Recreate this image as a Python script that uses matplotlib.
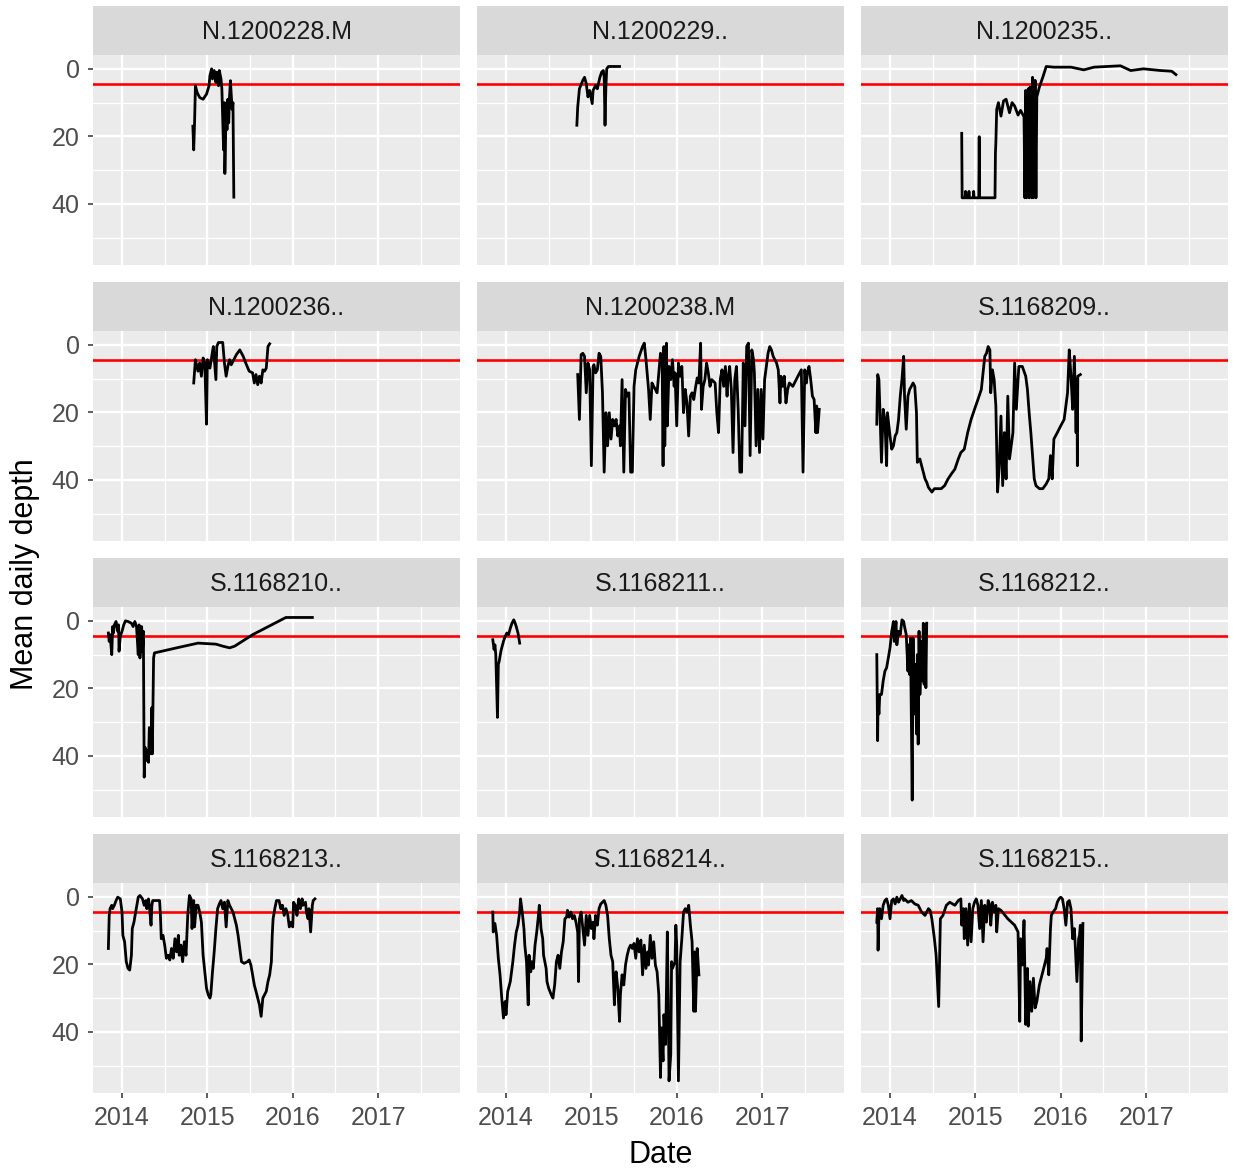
import matplotlib
matplotlib.use("Agg")
import matplotlib.pyplot as plt

# ---------------- data (decimal year, mean daily depth) ----------------
labels = ["N.1200228.M", "N.1200229..", "N.1200235..",
          "N.1200236..", "N.1200238.M", "S.1168209..",
          "S.1168210..", "S.1168211..", "S.1168212..",
          "S.1168213..", "S.1168214..", "S.1168215.."]

years_228 = [2014.83, 2014.84, 2014.85, 2014.86, 2014.88, 2014.91, 2014.95, 2014.99, 2015.02, 2015.03,
             2015.05, 2015.06, 2015.08, 2015.10, 2015.11, 2015.13, 2015.14, 2015.16, 2015.17, 2015.19,
             2015.20, 2015.205, 2015.22, 2015.23, 2015.24, 2015.25, 2015.26, 2015.27, 2015.29, 2015.30, 2015.31]
depth_228 = [17, 24, 16, 5, 7, 8.5, 9, 7.5, 5, 2,
             0, 3, 0.5, 4, 1, 5, 0.5, 3, 6, 24,
             10, 31, 11, 18, 9, 16, 8, 3.5, 12, 10, 38]

years_229 = [2014.83, 2014.84, 2014.86, 2014.90, 2014.92, 2014.94, 2014.96, 2014.98, 2015.01, 2015.02,
             2015.05, 2015.07, 2015.10, 2015.12, 2015.14, 2015.15, 2015.16, 2015.17, 2015.18, 2015.20,
             2015.25, 2015.33]
depth_229 = [16.7, 11.3, 5.9, 3.4, 2.5, 4.4, 8.3, 6.4, 10.3, 6.4,
             4.9, 5.9, 2.5, 1.0, 0.5, 2.5, 16.7, 5.4, 0.0, -0.7,
             -0.7, -0.7]

years_235 = [2014.84, 2014.845, 2014.88, 2014.885, 2014.89, 2014.92, 2014.925, 2014.93, 2014.975, 2014.98,
             2014.985, 2015.04, 2015.045, 2015.05, 2015.23, 2015.235, 2015.24, 2015.25, 2015.27, 2015.30,
             2015.33, 2015.36, 2015.40, 2015.43, 2015.46, 2015.50, 2015.53, 2015.57, 2015.58, 2015.59,
             2015.60, 2015.62, 2015.63, 2015.64, 2015.66, 2015.67, 2015.68, 2015.70, 2015.71, 2015.72,
             2015.75, 2015.79, 2015.83, 2015.92, 2016.12, 2016.27, 2016.39, 2016.70, 2016.82, 2016.97,
             2017.17, 2017.30, 2017.35]
depth_235 = [19.1, 38.2, 38.2, 36.3, 38.2, 38.2, 36.3, 38.2, 38.2, 36.3,
             38.2, 38.2, 20.1, 38.2, 38.2, 25, 22, 12, 10, 14,
             9.5, 9, 13, 10, 11, 13.7, 12.3, 14.2, 38.2, 6.4,
             38.2, 5.9, 38.2, 5.4, 38.2, 2.5, 38.2, 3.4, 38.2, 8.3,
             5.4, 2.5, -0.7, -0.5, -0.5, 0.3, -0.5, -0.9, 0.5, 0,
             0.5, 0.7, 1.7]

years_236 = [2014.84, 2014.86, 2014.89, 2014.91, 2014.93, 2014.95, 2014.97, 2014.99, 2015.00, 2015.03,
             2015.06, 2015.07, 2015.10, 2015.11, 2015.13, 2015.18, 2015.20, 2015.22, 2015.24, 2015.26,
             2015.28, 2015.31, 2015.34, 2015.38, 2015.42, 2015.45, 2015.49, 2015.53, 2015.55, 2015.57,
             2015.59, 2015.61, 2015.63, 2015.65, 2015.67, 2015.69, 2015.71, 2015.73]
depth_236 = [11.3, 4.4, 7.8, 5.4, 9.3, 3.9, 5.4, 23.5, 4.4, 6.9,
             2.0, 0.5, 10.3, 0.5, -0.7, -0.7, 5.4, 9.3, 6.4, 4.4,
             5.9, 4.4, 2.9, 1.5, 3.4, 5.4, 7.8, 8.3, 11.3, 8.8,
             11.8, 9.3, 11.3, 7.4, 7.8, 6.9, 0.5, -0.3]

years_238 = [2014.84, 2014.86, 2014.88, 2014.90, 2014.92, 2014.94, 2014.96, 2014.98, 2015.00, 2015.02,
             2015.03, 2015.05, 2015.07, 2015.09, 2015.11, 2015.13, 2015.15, 2015.17, 2015.19, 2015.21,
             2015.23, 2015.25, 2015.27, 2015.29, 2015.31, 2015.33, 2015.34, 2015.36, 2015.38, 2015.40,
             2015.42, 2015.44, 2015.46, 2015.48, 2015.50, 2015.52, 2015.56, 2015.60, 2015.62, 2015.64,
             2015.66, 2015.67, 2015.69, 2015.71, 2015.73, 2015.75, 2015.77, 2015.79, 2015.81, 2015.83,
             2015.84, 2015.85, 2015.86, 2015.88, 2015.89, 2015.91, 2015.93, 2015.95, 2015.97, 2015.98,
             2016.00, 2016.02, 2016.04, 2016.06, 2016.08, 2016.10, 2016.12, 2016.14, 2016.16, 2016.18,
             2016.20, 2016.22, 2016.24, 2016.26, 2016.28, 2016.29, 2016.31, 2016.33, 2016.35, 2016.37,
             2016.39, 2016.41, 2016.45, 2016.47, 2016.49, 2016.51, 2016.53, 2016.55, 2016.57, 2016.59,
             2016.60, 2016.62, 2016.64, 2016.66, 2016.68, 2016.70, 2016.72, 2016.74, 2016.76, 2016.78,
             2016.80, 2016.82, 2016.84, 2016.86, 2016.88, 2016.90, 2016.91, 2016.93, 2016.95, 2016.97,
             2016.99, 2017.01, 2017.03, 2017.05, 2017.07, 2017.09, 2017.11, 2017.13, 2017.15, 2017.17,
             2017.19, 2017.21, 2017.22, 2017.24, 2017.26, 2017.28, 2017.30, 2017.32, 2017.36, 2017.42,
             2017.46, 2017.48, 2017.50, 2017.52, 2017.53, 2017.55, 2017.57, 2017.59, 2017.61, 2017.63,
             2017.64, 2017.65, 2017.67]
depth_238 = [8.8, 22.1, 2.9, 2.5, 3.4, 14.2, 5.4, 7.4, 35.8, 6.4,
             5.9, 8.3, 7.4, 2.5, 3.4, 14.2, 37.7, 20.1, 29.9, 20.1,
             27.9, 22.1, 24.0, 22.1, 27.0, 24.0, 29.9, 10.3, 37.7, 13.2,
             15.2, 14.2, 37.7, 37.7, 12.3, 7.4, 3.4, 0.5, -0.5, 4.4,
             10.3, 13.2, 22.1, 11.3, 12.3, 13.2, 14.2, 8.3, 2.5, 6.4,
             35.8, 0.5, 29.9, -0.5, 24.0, 6.4, 10.3, 4.4, 12.3, 8.3,
             24.0, 5.4, 9.3, 6.4, 20.1, 13.2, 17.2, 27.0, 15.2, 14.2,
             16.2, 12.7, 9.8, 11.3, -0.5, 19.1, 12.3, 10.3, 5.4, 8.3,
             12.3, 10.3, 11.3, 20.1, 26.0, 10.3, 7.4, 12.3, 6.4, 15.2,
             10.3, 6.4, 13.2, 31.9, 10.3, 6.4, 19.1, 37.7, 37.7, 5.4,
             24.0, 0.5, -0.5, 32.8, 1.5, 4.4, 8.3, 29.9, 13.2, 31.9,
             13.2, 27.9, 10.3, 6.4, 2.5, 0.5, 1.5, 3.4, 4.4, 5.4,
             7.4, 17.2, 9.3, 12.3, 9.3, 17.2, 13.2, 11.3, 12.3, 9.3,
             7.4, 37.7, 7.4, 11.3, 8.3, 6.4, 10.3, 15.2, 16.2, 26.0,
             18.1, 26.0, 19.1]

years_209 = [2013.845, 2013.85, 2013.856, 2013.87, 2013.88, 2013.90, 2013.92, 2013.94, 2013.96, 2013.97,
             2014.00, 2014.02, 2014.04, 2014.06, 2014.08, 2014.10, 2014.12, 2014.14, 2014.16, 2014.17,
             2014.19, 2014.21, 2014.23, 2014.25, 2014.27, 2014.29, 2014.31, 2014.32, 2014.35, 2014.37,
             2014.39, 2014.41, 2014.43, 2014.45, 2014.49, 2014.52, 2014.56, 2014.60, 2014.64, 2014.68,
             2014.72, 2014.76, 2014.80, 2014.83, 2014.87, 2014.91, 2014.95, 2014.99, 2015.03, 2015.07,
             2015.11, 2015.13, 2015.15, 2015.17, 2015.18, 2015.20, 2015.22, 2015.24, 2015.26, 2015.28,
             2015.30, 2015.32, 2015.34, 2015.36, 2015.38, 2015.40, 2015.42, 2015.44, 2015.46, 2015.48,
             2015.50, 2015.51, 2015.55, 2015.59, 2015.61, 2015.63, 2015.65, 2015.67, 2015.69, 2015.71,
             2015.75, 2015.79, 2015.83, 2015.86, 2015.88, 2015.90, 2015.92, 2015.96, 2016.00, 2016.04,
             2016.08, 2016.10, 2016.12, 2016.14, 2016.16, 2016.18, 2016.19, 2016.195, 2016.20, 2016.23]
depth_209 = [23.5, 15.7, 8.8, 10.3, 18.1, 34.8, 19.1, 22.1, 35.8, 20.1,
             27.0, 30.9, 29.9, 27.0, 26.0, 22.1, 15.2, 10.3, 3.4, 15.2,
             25.0, 15.2, 13.2, 12.3, 11.3, 12.3, 20.1, 34.8, 33.8, 35.8,
             37.7, 39.7, 40.7, 42.2, 43.6, 42.6, 42.6, 42.6, 41.7, 39.7,
             38.2, 36.8, 33.8, 31.9, 30.9, 26.0, 22.1, 19.1, 16.2, 13.2,
             3.4, 2.5, 0.5, 1.5, 14.2, 7.4, 10.3, 18.1, 43.6, 35.8,
             21.1, 41.7, 26.0, 39.7, 15.2, 33.8, 29.9, 26.0, 5.4, 19.1,
             10.3, 6.4, 6.4, 9.3, 13.2, 20.1, 26.0, 32.8, 39.7, 41.7,
             42.6, 42.6, 41.2, 39.7, 32.8, 39.7, 27.9, 26.0, 24.0, 22.1,
             14.2, 1.5, 9.3, 19.1, 3.4, 26.0, 10.3, 35.8, 9.3, 8.8]

years_210 = [2013.84, 2013.85, 2013.86, 2013.88, 2013.89, 2013.90, 2013.91, 2013.93, 2013.95, 2013.96,
             2013.965, 2013.98, 2014.00, 2014.02, 2014.04, 2014.07, 2014.11, 2014.13, 2014.15, 2014.17,
             2014.19, 2014.20, 2014.21, 2014.23, 2014.24, 2014.25, 2014.26, 2014.27, 2014.28, 2014.30,
             2014.31, 2014.32, 2014.34, 2014.35, 2014.355, 2014.37, 2014.38, 2014.64, 2014.89, 2015.10,
             2015.18, 2015.26, 2015.32, 2015.53, 2015.92, 2016.23]
depth_210 = [3.6, 6.1, 4.1, 10.0, 1.7, 3.6, 1.2, 0.2, 3.1, 1.2,
             9.0, 4.6, 3.1, 1.2, 0.0, 0.2, 0.7, 1.7, 0.2, 1.7,
             10.0, 1.2, 11.0, 1.7, 9.0, 3.1, 46.3, 37.5, 41.4, 38.4,
             41.9, 31.6, 39.4, 25.7, 39.4, 11.0, 9.5, 8.0, 6.6, 6.9,
             7.5, 8.0, 7.5, 4.1, -1.0, -1.0]

years_211 = [2013.845, 2013.86, 2013.87, 2013.88, 2013.90, 2013.91, 2013.92, 2013.94, 2013.95, 2013.97,
             2013.99, 2014.01, 2014.03, 2014.05, 2014.07, 2014.09, 2014.10, 2014.12, 2014.14, 2014.16]
depth_211 = [5.6, 8.5, 7.1, 10.0, 28.6, 12.9, 12.0, 9.0, 8.0, 6.1,
             4.6, 3.6, 4.1, 2.2, 0.7, -0.3, 0.2, 1.7, 3.6, 6.6]

years_212 = [2013.845, 2013.855, 2013.86, 2013.87, 2013.88, 2013.90, 2013.92, 2013.94, 2013.96, 2013.98,
             2014.00, 2014.02, 2014.04, 2014.05, 2014.07, 2014.08, 2014.10, 2014.12, 2014.14, 2014.16,
             2014.17, 2014.19, 2014.21, 2014.22, 2014.23, 2014.24, 2014.26, 2014.27, 2014.28, 2014.30,
             2014.31, 2014.32, 2014.33, 2014.34, 2014.35, 2014.37, 2014.38, 2014.39, 2014.40, 2014.41,
             2014.42, 2014.43]
depth_212 = [10.0, 35.5, 22.7, 27.6, 21.8, 21.8, 17.8, 14.9, 13.9, 11.0,
             8.0, 3.1, 0.2, 6.1, 0.2, 7.1, 3.1, 4.1, -0.3, 0.2,
             1.7, 4.1, 14.9, 7.1, 15.9, 5.1, 53.1, 5.1, 27.6, 12.9,
             33.5, 10.0, 36.5, 3.1, 21.8, 6.1, 17.8, 0.7, 18.8, 1.2,
             19.8, 0.7]

years_213 = [2013.84, 2013.85, 2013.86, 2013.88, 2013.89, 2013.91, 2013.93, 2013.95, 2013.98, 2014.00,
             2014.01, 2014.03, 2014.05, 2014.07, 2014.09, 2014.11, 2014.12, 2014.14, 2014.16, 2014.18,
             2014.19, 2014.21, 2014.24, 2014.26, 2014.28, 2014.29, 2014.31, 2014.32, 2014.34, 2014.35,
             2014.36, 2014.40, 2014.44, 2014.45, 2014.46, 2014.48, 2014.50, 2014.52, 2014.54, 2014.56,
             2014.58, 2014.60, 2014.62, 2014.64, 2014.66, 2014.67, 2014.69, 2014.71, 2014.73, 2014.75,
             2014.77, 2014.79, 2014.81, 2014.82, 2014.84, 2014.85, 2014.87, 2014.89, 2014.91, 2014.93,
             2014.95, 2014.97, 2014.99, 2015.01, 2015.03, 2015.04, 2015.06, 2015.08, 2015.10, 2015.12,
             2015.14, 2015.16, 2015.18, 2015.20, 2015.22, 2015.24, 2015.26, 2015.28, 2015.30, 2015.34,
             2015.36, 2015.38, 2015.40, 2015.43, 2015.47, 2015.49, 2015.51, 2015.53, 2015.55, 2015.57,
             2015.59, 2015.61, 2015.63, 2015.65, 2015.67, 2015.69, 2015.71, 2015.73, 2015.75, 2015.76,
             2015.77, 2015.79, 2015.81, 2015.84, 2015.86, 2015.88, 2015.90, 2015.92, 2015.94, 2015.96,
             2015.98, 2016.00, 2016.01, 2016.03, 2016.05, 2016.07, 2016.09, 2016.11, 2016.12, 2016.15,
             2016.16, 2016.18, 2016.19, 2016.21, 2016.23, 2016.24, 2016.26]
depth_213 = [15.3, 5.5, 3.5, 2.5, 3.5, 2.5, 1.1, 0.1, 0.6, 4.5,
             11.4, 13.3, 19.2, 21.2, 21.7, 17.3, 9.4, 7.5, 4.5, 1.6,
             0.1, -0.4, 0.6, 2.5, 1.1, 3.5, 0.6, 2.5, 8.4, 2.5,
             1.1, 1.1, 1.1, 5.5, 12.4, 11.4, 14.3, 18.2, 17.3, 18.7,
             15.3, 18.2, 12.4, 16.3, 11.4, 17.3, 14.3, 19.2, 13.3, 17.3,
             5.5, -0.4, 0.6, 9.4, 1.1, 8.9, 2.5, 2.5, 4.5, 7.5,
             17.3, 22.2, 27.1, 29.0, 30.0, 29.0, 22.2, 16.3, 9.4, 3.5,
             2.1, 1.1, 3.5, 1.6, 8.9, 1.1, 2.5, 3.5, 4.5, 8.4,
             11.4, 15.3, 19.2, 19.7, 19.2, 18.7, 20.2, 23.1, 26.1, 28.0,
             30.0, 32.0, 35.4, 30.0, 29.0, 28.0, 25.1, 23.1, 19.2, 11.4,
             6.5, 3.5, 1.1, 1.1, 3.5, 2.5, 5.5, 3.5, 5.0, 8.9,
             7.5, 8.9, 1.6, 2.5, 5.5, 0.6, 3.5, 0.6, 2.5, 1.6,
             4.5, 6.5, 3.5, 10.4, 2.5, 1.1, 0.6]

years_214 = [2013.845, 2013.85, 2013.87, 2013.89, 2013.91, 2013.93, 2013.95, 2013.97, 2013.99, 2014.00,
             2014.02, 2014.04, 2014.05, 2014.08, 2014.10, 2014.12, 2014.14, 2014.16, 2014.17, 2014.18,
             2014.19, 2014.21, 2014.22, 2014.24, 2014.26, 2014.27, 2014.29, 2014.30, 2014.32, 2014.34,
             2014.36, 2014.38, 2014.39, 2014.40, 2014.41, 2014.43, 2014.44, 2014.47, 2014.48, 2014.50,
             2014.53, 2014.55, 2014.57, 2014.59, 2014.61, 2014.63, 2014.65, 2014.67, 2014.69, 2014.71,
             2014.72, 2014.74, 2014.76, 2014.78, 2014.80, 2014.82, 2014.84, 2014.85, 2014.86, 2014.88,
             2014.90, 2014.92, 2014.94, 2014.96, 2014.98, 2015.00, 2015.02, 2015.03, 2015.05, 2015.07,
             2015.09, 2015.11, 2015.13, 2015.15, 2015.17, 2015.19, 2015.21, 2015.23, 2015.25, 2015.27,
             2015.28, 2015.29, 2015.31, 2015.33, 2015.34, 2015.36, 2015.38, 2015.40, 2015.42, 2015.44,
             2015.46, 2015.48, 2015.50, 2015.52, 2015.54, 2015.56, 2015.58, 2015.60, 2015.62, 2015.64,
             2015.66, 2015.67, 2015.69, 2015.71, 2015.73, 2015.75, 2015.77, 2015.79, 2015.81, 2015.82,
             2015.84, 2015.85, 2015.87, 2015.89, 2015.90, 2015.91, 2015.93, 2015.94, 2015.95, 2015.98,
             2015.99, 2016.00, 2016.02, 2016.04, 2016.06, 2016.08, 2016.10, 2016.12, 2016.14, 2016.16,
             2016.18, 2016.20, 2016.21, 2016.22, 2016.24, 2016.26]
depth_214 = [4.5, 10.4, 7.9, 11.4, 18.2, 23.1, 30.0, 35.9, 31.0, 34.9,
             28.0, 26.1, 25.1, 19.2, 14.3, 10.4, 8.4, 4.5, 0.6, 2.5,
             4.5, 9.4, 14.3, 19.2, 32.0, 17.3, 22.2, 19.2, 21.2, 14.3,
             10.4, 5.5, 2.5, 5.5, 9.4, 12.4, 17.3, 21.2, 25.1, 27.1,
             29.0, 30.0, 26.1, 19.2, 17.3, 21.2, 16.3, 13.3, 6.5, 6.0,
             4.0, 6.0, 4.5, 6.5, 5.5, 7.5, 10.4, 25.1, 6.5, 4.5,
             9.4, 14.3, 5.5, 11.4, 5.5, 9.4, 7.5, 12.4, 5.5, 8.4,
             3.5, 2.1, 1.6, 1.1, 2.5, 5.5, 12.4, 17.3, 19.2, 32.0,
             24.1, 22.2, 27.1, 36.9, 29.0, 23.1, 26.1, 20.2, 17.3, 15.3,
             14.3, 15.3, 13.8, 18.2, 12.4, 16.3, 12.8, 23.1, 14.3, 21.2,
             16.3, 20.2, 11.4, 18.2, 13.3, 20.2, 22.2, 29.0, 53.5, 38.8,
             48.6, 34.9, 43.7, 10.4, 29.0, 54.5, 46.7, 19.2, 21.2, 19.2,
             8.4, 14.3, 54.5, 19.2, 12.4, 4.5, 3.5, 4.5, 2.5, 8.4,
             13.3, 33.9, 16.3, 33.9, 15.3, 23.1]

years_215 = [2013.845, 2013.855, 2013.86, 2013.87, 2013.88, 2013.90, 2013.92, 2013.94, 2013.96, 2013.98,
             2014.00, 2014.02, 2014.04, 2014.06, 2014.08, 2014.10, 2014.12, 2014.14, 2014.16, 2014.17,
             2014.21, 2014.25, 2014.29, 2014.33, 2014.37, 2014.41, 2014.45, 2014.47, 2014.49, 2014.52,
             2014.54, 2014.57, 2014.59, 2014.62, 2014.66, 2014.70, 2014.76, 2014.80, 2014.83, 2014.84,
             2014.86, 2014.87, 2014.89, 2014.91, 2014.93, 2014.95, 2014.97, 2014.99, 2015.01, 2015.03,
             2015.05, 2015.07, 2015.09, 2015.11, 2015.13, 2015.15, 2015.17, 2015.18, 2015.20, 2015.22,
             2015.24, 2015.25, 2015.27, 2015.30, 2015.38, 2015.46, 2015.50, 2015.52, 2015.53, 2015.55,
             2015.57, 2015.59, 2015.61, 2015.62, 2015.64, 2015.66, 2015.68, 2015.70, 2015.72, 2015.75,
             2015.79, 2015.83, 2015.84, 2015.86, 2015.88, 2015.89, 2015.91, 2015.94, 2015.96, 2015.98,
             2016.00, 2016.02, 2016.04, 2016.06, 2016.08, 2016.10, 2016.12, 2016.14, 2016.16, 2016.17,
             2016.19, 2016.21, 2016.22, 2016.23, 2016.24, 2016.26]
depth_215 = [7.5, 3.5, 15.8, 5.5, 3.5, 6.5, 2.5, 1.1, 0.6, 2.5,
             6.5, 1.1, 0.6, 2.1, 0.1, 1.6, 0.6, -0.4, 1.1, 0.6,
             1.6, 1.1, 2.1, 2.5, 4.5, 5.5, 3.5, 4.0, 6.5, 12.4,
             17.3, 32.5, 6.5, 5.5, 2.5, 1.6, 2.5, 1.1, 0.6, 8.4,
             3.5, 12.4, 3.5, 14.3, 2.1, 13.3, 3.5, 1.6, 0.6, 2.5,
             9.4, 1.1, 13.3, 2.5, 7.5, 1.1, 2.5, 8.4, 1.6, 4.5,
             2.5, 10.4, 3.5, 4.0, 6.5, 8.4, 10.4, 36.9, 12.4, 20.2,
             7.0, 37.8, 21.2, 38.3, 25.1, 33.9, 24.1, 32.9, 31.0, 26.1,
             22.2, 18.2, 15.3, 23.1, 9.4, 5.5, 4.5, 3.5, 1.6, 0.6,
             0.1, 0.6, 3.5, 8.4, 1.6, 1.1, 3.5, 12.4, 9.4, 14.3,
             25.1, 12.4, 11.4, 8.4, 42.7, 7.9]

series_years = [years_228, years_229, years_235, years_236, years_238, years_209,
                years_210, years_211, years_212, years_213, years_214, years_215]
series_depth = [depth_228, depth_229, depth_235, depth_236, depth_238, depth_209,
                depth_210, depth_211, depth_212, depth_213, depth_214, depth_215]

threshold_depth = 4.5
x_major = [2014, 2015, 2016, 2017]
x_major_labels = ["2014", "2015", "2016", "2017"]
x_minor = [2014.5, 2015.5, 2016.5, 2017.5]
y_major = [0, 20, 40]
y_minor = [10, 30, 50]

# ---------------- layout ----------------
W, H = 1233, 1172
plt.rcParams['font.family'] = ['Liberation Sans', 'DejaVu Sans']
fig = plt.figure(figsize=(W / 100, H / 100), dpi=100)
fig.patch.set_facecolor('white')

col_left = [93, 477, 861]
col_w = 367
strip_top = [6, 282, 558, 834]
strip_h = 49
panel_h = 210

for i, (lab, xs, ys) in enumerate(zip(labels, series_years, series_depth)):
    r, c = divmod(i, 3)
    left = col_left[c] / W
    s_top = strip_top[r]
    p_top = s_top + strip_h
    ax = fig.add_axes([left, 1 - (p_top + panel_h) / H, col_w / W, panel_h / H])
    sax = fig.add_axes([left, 1 - p_top / H, col_w / W, strip_h / H])

    # strip
    sax.set_facecolor('#D9D9D9')
    sax.set_xticks([]); sax.set_yticks([])
    for sp in sax.spines.values():
        sp.set_visible(False)
    sax.text(0.5, 0.47, lab, ha='center', va='center', fontsize=18,
             color='#1A1A1A', transform=sax.transAxes)

    # panel
    ax.set_facecolor('#EBEBEB')
    for sp in ax.spines.values():
        sp.set_visible(False)
    ax.set_xlim(2013.66, 2017.96)
    ax.set_ylim(58.1, -4.1)
    ax.set_xticks(x_major)
    ax.set_xticklabels(x_major_labels)
    ax.set_xticks(x_minor, minor=True)
    ax.set_yticks(y_major)
    ax.set_yticks(y_minor, minor=True)
    ax.set_axisbelow(True)
    ax.grid(which='major', color='white', linewidth=1.7)
    ax.grid(which='minor', color='white', linewidth=0.9)
    ax.tick_params(which='minor', length=0)
    ax.tick_params(which='major', length=3.5, width=1.1, color='#333333',
                   labelsize=18, labelcolor='#4D4D4D', pad=6)
    if c != 0:
        ax.tick_params(axis='y', which='major', length=0, labelleft=False)
    if r != 3:
        ax.tick_params(axis='x', which='major', length=0, labelbottom=False)

    n = min(len(xs), len(ys))
    ax.axhline(threshold_depth, color='#FF0000', linewidth=1.9, zorder=3)
    ax.plot(xs[:n], ys[:n], color='black', linewidth=2.0, zorder=4,
            solid_joinstyle='round')

fig.text((93 + 1228) / 2 / W, 1 - 1155 / H, "Date", ha='center', va='center',
         fontsize=22, color='black')
fig.text(25 / W, 1 - 574 / H, "Mean daily depth", ha='center', va='center',
         rotation=90, fontsize=22, color='black')

fig.savefig("out.png", dpi=100, facecolor='white')
